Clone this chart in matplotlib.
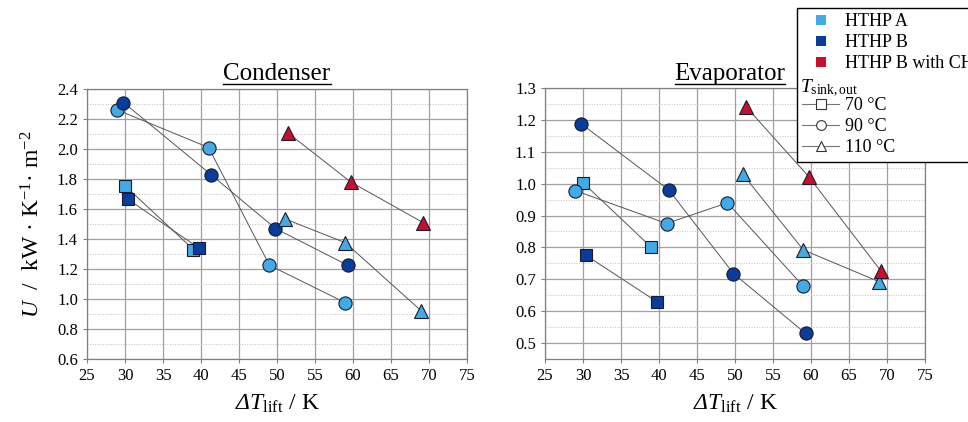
import matplotlib
matplotlib.use('Agg')
import matplotlib.pyplot as plt
from matplotlib.lines import Line2D
from matplotlib.ticker import MultipleLocator, FormatStrFormatter

plt.rcParams['font.family'] = ['Liberation Serif', 'DejaVu Serif']
plt.rcParams['mathtext.fontset'] = 'custom'
plt.rcParams['mathtext.rm'] = 'Liberation Serif'
plt.rcParams['mathtext.it'] = 'Liberation Serif:italic'
plt.rcParams['mathtext.bf'] = 'Liberation Serif:bold'
plt.rcParams['mathtext.cal'] = 'Liberation Serif:italic'  # used for the italic Delta

# temperature lift (x) per series
dT_a_70 = [30, 39]
dT_b_70 = [30.4, 39.7]
dT_a_90 = [29, 41, 49, 59]
dT_b_90 = [29.8, 41.3, 49.8, 59.3]
dT_a_110 = [51, 59, 69]
dT_chc_110 = [51.5, 59.7, 69.2]

# condenser U values
U_cond_a_70 = [1.755, 1.33]
U_cond_b_70 = [1.665, 1.34]
U_cond_a_90 = [2.26, 2.01, 1.225, 0.975]
U_cond_b_90 = [2.31, 1.83, 1.47, 1.225]
U_cond_a_110 = [1.535, 1.375, 0.92]
U_cond_chc_110 = [2.105, 1.78, 1.51]

# evaporator U values
U_evap_a_70 = [1.003, 0.80]
U_evap_b_70 = [0.775, 0.63]
U_evap_a_90 = [0.978, 0.875, 0.94, 0.678]
U_evap_b_90 = [1.187, 0.98, 0.718, 0.53]
U_evap_a_110 = [1.03, 0.792, 0.692]
U_evap_chc_110 = [1.24, 1.022, 0.726]

x_ticks = [25, 30, 35, 40, 45, 50, 55, 60, 65, 70, 75]
legend_labels = ['HTHP A', 'HTHP B', 'HTHP B with CHC']
temp_labels = ['70 °C', '90 °C', '110 °C']

c_a = '#42aae4'
c_b = '#0a3c9c'
c_chc = '#c8102e'
line_c = '#555555'


def draw_panel(ax, U, ylim, ymajor, yminor):
    series = [
        (dT_a_70, U[0], 's', c_a, 8.5),
        (dT_b_70, U[1], 's', c_b, 8.5),
        (dT_a_90, U[2], 'o', c_a, 9.5),
        (dT_b_90, U[3], 'o', c_b, 9.5),
        (dT_a_110, U[4], '^', c_a, 10),
        (dT_chc_110, U[5], '^', c_chc, 10),
    ]
    for x, y, m, c, ms in series:
        ax.plot(x, y, color=line_c, lw=0.7, zorder=3)
        ax.plot(x, y, linestyle='none', marker=m, markersize=ms,
                markerfacecolor=c, markeredgecolor='#1a1a2e',
                markeredgewidth=0.8, zorder=4)
    ax.set_xlim(25, 75)
    ax.set_ylim(*ylim)
    ax.set_xticks(x_ticks)
    ax.yaxis.set_major_locator(MultipleLocator(ymajor))
    ax.yaxis.set_minor_locator(MultipleLocator(yminor))
    ax.yaxis.set_major_formatter(FormatStrFormatter('%.1f'))
    ax.grid(True, which='major', color='#a0a0a0', lw=0.9)
    ax.grid(True, which='minor', axis='y', color='#c0c0c0', lw=0.7, linestyle=':')
    ax.tick_params(axis='both', which='major', labelsize=12, length=3,
                   color='#808080', direction='out')
    ax.tick_params(axis='y', which='minor', length=0)
    for s in ax.spines.values():
        s.set_color('#808080')
        s.set_linewidth(0.9)
    ax.set_axisbelow(True)
    ax.set_xlabel(r'$\mathcal{Δ}T_{\mathrm{lift}}$ / K', fontsize=17, labelpad=6)


fig = plt.figure(figsize=(9.68, 4.22), dpi=100)
ax1 = fig.add_axes([87 / 968, 1 - 359 / 422, 380 / 968, 270 / 422])
ax2 = fig.add_axes([545 / 968, 1 - 359 / 422, 380 / 968, 271 / 422])

draw_panel(ax1, [U_cond_a_70, U_cond_b_70, U_cond_a_90, U_cond_b_90,
                 U_cond_a_110, U_cond_chc_110], (0.6, 2.4), 0.2, 0.1)
draw_panel(ax2, [U_evap_a_70, U_evap_b_70, U_evap_a_90, U_evap_b_90,
                 U_evap_a_110, U_evap_chc_110], (0.45, 1.3), 0.1, 0.05)
ax1.set_ylabel(r'$U$  /  kW · K$^{-1}$· m$^{-2}$', fontsize=17, labelpad=9)

# underlined titles
t1 = fig.text(277 / 968, 1 - 80 / 422, 'Condenser', fontsize=18,
              ha='center', va='baseline')
t2 = fig.text(730 / 968, 1 - 80 / 422, 'Evaporator', fontsize=18,
              ha='center', va='baseline')
fig.canvas.draw()
r = fig.canvas.get_renderer()
for t in (t1, t2):
    bb = t.get_window_extent(r).transformed(fig.transFigure.inverted())
    fig.add_artist(Line2D([bb.x0, bb.x1], [1 - 83.5 / 422] * 2, color='black',
                          lw=1.0, transform=fig.transFigure))

# legend
handles = [Line2D([], [], linestyle='none', marker='s', markersize=7,
                  color=c, markeredgewidth=0) for c in (c_a, c_b, c_chc)]
handles.append(Line2D([], [], linestyle='none'))
for m in ('s', 'o', '^'):
    handles.append(Line2D([], [], color='#777777', lw=0.8, marker=m, markersize=7,
                          markerfacecolor='white', markeredgecolor='#333333',
                          markeredgewidth=0.8))
labels = legend_labels + [' '] + temp_labels
leg = fig.legend(handles, labels, loc='upper left',
                 bbox_to_anchor=(797 / 968, 1 - 8 / 422), fontsize=13,
                 frameon=True, fancybox=False, edgecolor='black', framealpha=1,
                 handlelength=2.05, handletextpad=0.3, labelspacing=0.22,
                 borderpad=0.3, borderaxespad=0)
leg.get_frame().set_linewidth(1.0)
fig.text(800 / 968, 1 - 92 / 422, r'$T_{\mathrm{sink,out}}$', fontsize=14,
         ha='left', va='baseline', zorder=10)

fig.savefig('out.png', dpi=100)
